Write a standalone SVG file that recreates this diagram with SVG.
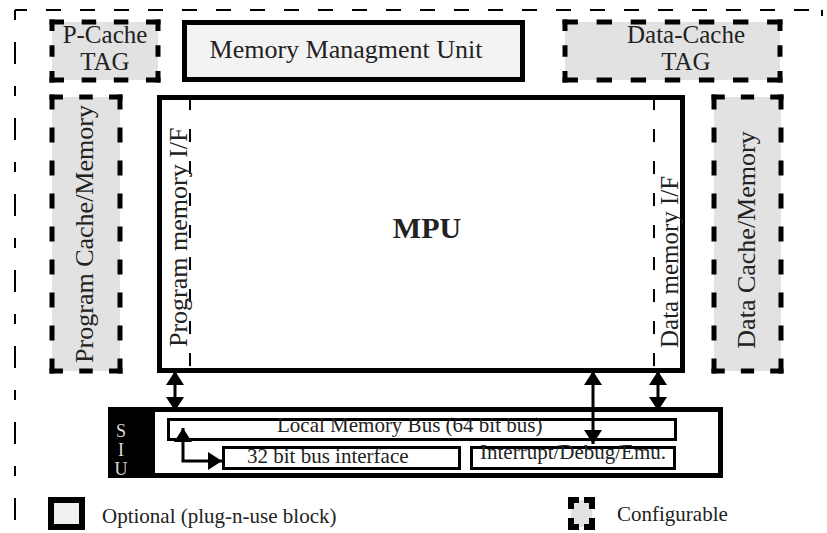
<svg xmlns="http://www.w3.org/2000/svg" width="827" height="533" viewBox="0 0 827 533">
<style>
text{font-family:"Liberation Serif","Times New Roman",serif;fill:#222}
.cfg{stroke:#000;stroke-width:5;stroke-dasharray:14 17;fill:none}
.cfill{fill:#e2e2e2}
.solid{stroke:#000;stroke-width:5}
.thin{stroke:#000;stroke-width:3;fill:#fff}
.conn{stroke:#000;stroke-width:3;fill:none}
.ifl{stroke:#000;stroke-width:2;stroke-dasharray:13 19}
</style>
<defs>
<marker id="ah" markerUnits="userSpaceOnUse" markerWidth="14" markerHeight="18" refX="14" refY="9" orient="auto-start-reverse" viewBox="0 0 14 18">
<path d="M0,0 L14,9 L0,18 z" fill="#000"/>
</marker>
</defs>
<rect width="827" height="533" fill="#fff"/>
<g id="frame" fill="none" stroke="#000" stroke-width="2">
<path d="M15,10 L822,10" stroke-dasharray="15 19" stroke-dashoffset="3"/>
<path d="M15,10 L15,533" stroke-dasharray="10 22 22 22"/>
<path d="M822,10 L822,16"/>
</g>
<g id="pcache-tag">
<rect class="cfill" x="52" y="22" width="106" height="58"/>
<line class="cfg" x1="49.5" y1="22" x2="160.5" y2="22" pathLength="107"/>
<line class="cfg" x1="49.5" y1="80" x2="160.5" y2="80" pathLength="107"/>
<line class="cfg" x1="52" y1="19.5" x2="52" y2="82.5" pathLength="76"/>
<line class="cfg" x1="158" y1="19.5" x2="158" y2="82.5" pathLength="76"/>
<text x="105" y="43" font-size="25" text-anchor="middle">P-Cache</text>
<text x="105" y="70" font-size="25" text-anchor="middle">TAG</text>
</g>
<g id="mmu">
<rect class="solid" x="184.5" y="22.5" width="338" height="57" fill="#f3f3f3"/>
<text x="346" y="58" font-size="26" text-anchor="middle">Memory Managment Unit</text>
</g>
<g id="dcache-tag">
<rect class="cfill" x="565" y="22" width="215" height="58"/>
<line class="cfg" x1="562.5" y1="22" x2="782.5" y2="22" pathLength="200"/>
<line class="cfg" x1="562.5" y1="80" x2="782.5" y2="80" pathLength="200"/>
<line class="cfg" x1="565" y1="19.5" x2="565" y2="82.5" pathLength="76"/>
<line class="cfg" x1="780" y1="19.5" x2="780" y2="82.5" pathLength="76"/>
<text x="686" y="43" font-size="25" text-anchor="middle">Data-Cache</text>
<text x="686" y="70" font-size="25" text-anchor="middle">TAG</text>
</g>
<g id="prog-cache">
<rect class="cfill" x="52" y="97" width="68" height="274"/>
<line class="cfg" x1="49.5" y1="97" x2="122.5" y2="97" pathLength="76"/>
<line class="cfg" x1="49.5" y1="371" x2="122.5" y2="371" pathLength="76"/>
<line class="cfg" x1="52" y1="94.5" x2="52" y2="373.5" pathLength="262"/>
<line class="cfg" x1="120" y1="94.5" x2="120" y2="373.5" pathLength="262"/>
<text transform="translate(93,234) rotate(-90)" font-size="26" text-anchor="middle">Program Cache/Memory</text>
</g>
<g id="mpu">
<rect class="solid" x="159.5" y="97.5" width="523" height="273" fill="#fff"/>
<line class="ifl" x1="190" y1="97" x2="190" y2="371"/>
<line class="ifl" x1="654" y1="97" x2="654" y2="371"/>
<text transform="translate(187,347) rotate(-90)" font-size="26">Program memory I/F</text>
<text transform="translate(678,348) rotate(-90)" font-size="25">Data memory I/F</text>
<text x="427" y="238" font-size="30" font-weight="bold" text-anchor="middle" fill="#000">MPU</text>
</g>
<g id="data-cache">
<rect class="cfill" x="714" y="97" width="67" height="274"/>
<line class="cfg" x1="711.5" y1="97" x2="783.5" y2="97" pathLength="76"/>
<line class="cfg" x1="711.5" y1="371" x2="783.5" y2="371" pathLength="76"/>
<line class="cfg" x1="714" y1="94.5" x2="714" y2="373.5" pathLength="262"/>
<line class="cfg" x1="781" y1="94.5" x2="781" y2="373.5" pathLength="262"/>
<text transform="translate(755,240) rotate(-90)" font-size="26" text-anchor="middle">Data Cache/Memory</text>
</g>
<g id="siu">
<rect class="solid" x="110.5" y="409.5" width="610" height="66" fill="#fff"/>
<rect x="108" y="407" width="47" height="71" fill="#000"/>
<text x="121" y="437" font-size="18" text-anchor="middle" style="fill:#ddd">S</text>
<text x="121" y="456" font-size="18" text-anchor="middle" style="fill:#ddd">I</text>
<text x="121" y="475" font-size="18" text-anchor="middle" style="fill:#ddd">U</text>
</g>
<g id="local-bus">
<rect class="thin" x="168.5" y="419.5" width="507" height="20"/>
<text x="277" y="432" font-size="21">Local Memory Bus (64 bit bus)</text>
</g>
<g id="bus32">
<rect class="thin" x="223.5" y="447.5" width="236" height="21"/>
<text x="247" y="463" font-size="21">32 bit bus interface</text>
</g>
<g id="interrupt">
<rect class="thin" x="471.5" y="447.5" width="203" height="21"/>
<text x="480" y="459" font-size="21">Interrupt/Debug/Emu.</text>
</g>
<g id="connectors">
<line class="conn" x1="175" y1="371" x2="175" y2="411" marker-start="url(#ah)" marker-end="url(#ah)"/>
<line class="conn" x1="658" y1="371" x2="658" y2="411" marker-start="url(#ah)" marker-end="url(#ah)"/>
<line class="conn" x1="593" y1="371" x2="593" y2="444" marker-start="url(#ah)" marker-end="url(#ah)"/>
<path class="conn" d="M183,428 L183,461 L222,461" marker-start="url(#ah)" marker-end="url(#ah)"/>
</g>
<g id="legend">
<rect x="51" y="500" width="31" height="27" fill="#f0f0f0" stroke="#000" stroke-width="6"/>
<text x="102" y="523" font-size="21">Optional (plug-n-use block)</text>
<rect x="571" y="500" width="21" height="27" fill="#e2e2e2"/>
<path d="M571,509 V500 H579 M584,500 H592 V509 M592,518 V527 H584 M579,527 H571 V518" fill="none" stroke="#000" stroke-width="6"/>
<text x="617" y="521" font-size="21">Configurable</text>
</g>
</svg>
